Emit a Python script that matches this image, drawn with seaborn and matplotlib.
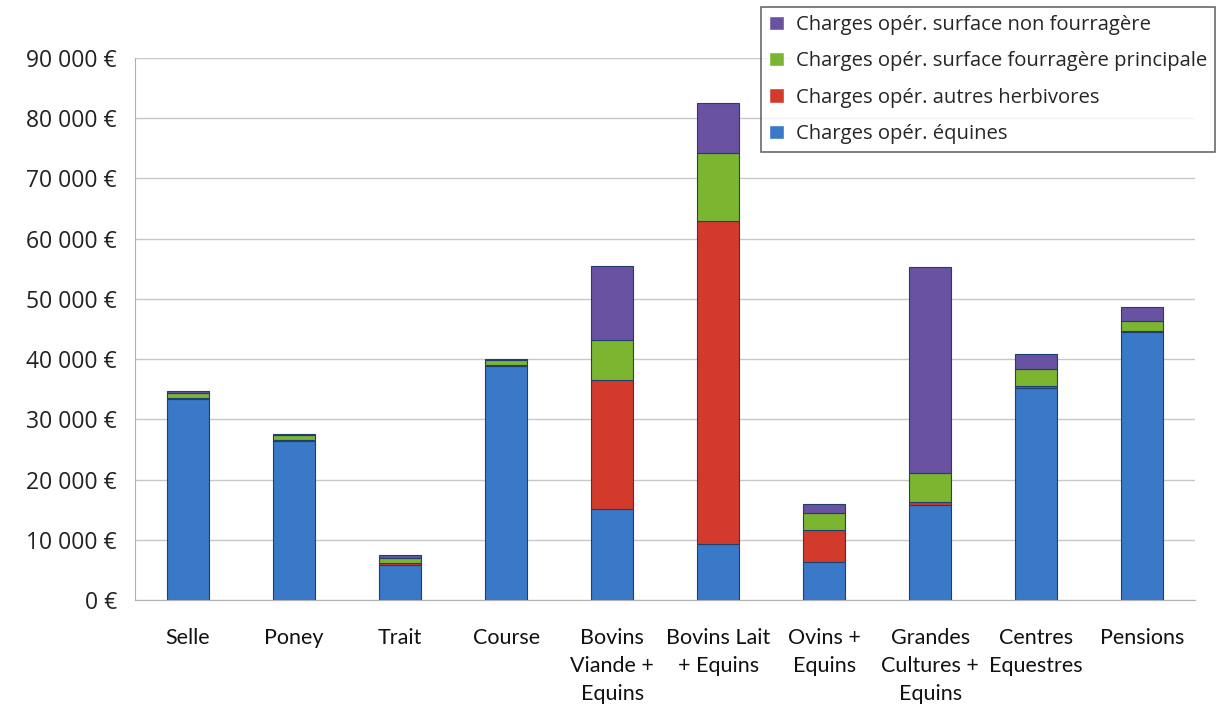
import numpy as np
import pandas as pd
import matplotlib
matplotlib.use('Agg')
import matplotlib.pyplot as plt
from matplotlib.patches import Patch
import seaborn as sns

# Données
categories = ['Selle', 'Poney', 'Trait', 'Course', 'Bovins\nViande +\nEquins',
              'Bovins Lait\n+ Equins', 'Ovins +\nEquins', 'Grandes\nCultures +\nEquins',
              'Centres\nEquestres', 'Pensions']
equines = [33300, 26400, 5900, 38900, 15100, 9300, 6300, 15800, 35200, 44500]
autres_herbivores = [200, 100, 300, 100, 21400, 53700, 5300, 500, 400, 200]
fourragere = [900, 900, 700, 800, 6700, 11300, 2900, 4800, 2700, 1600]
non_fourragere = [300, 200, 500, 300, 12300, 8300, 1400, 34200, 2600, 2400]

series = ['Charges opér. équines', 'Charges opér. autres herbivores',
          'Charges opér. surface fourragère principale', 'Charges opér. surface non fourragère']
couleurs = ['#3a78c8', '#d23a2c', '#7cb530', '#6a52a3']

df = pd.DataFrame({'cat': categories, series[0]: equines, series[1]: autres_herbivores,
                   series[2]: fourragere, series[3]: non_fourragere})

sns.set_style('white')
plt.rcParams['font.family'] = ['Open Sans', 'DejaVu Sans']

fig = plt.figure(figsize=(12.2, 7.08), dpi=100)
ax = fig.add_axes([0.1107, 0.1525, 0.869, 0.7655])

base = np.zeros(len(categories))
for s, c in zip(series, couleurs):
    sns.barplot(data=df, x='cat', y=s, color=c, bottom=base, width=0.4,
                edgecolor='#1f3f6e', linewidth=0.8, ax=ax, saturation=1)
    base = base + df[s].values

ax.set_ylim(0, 90000)
ax.set_xlim(-0.5, len(categories) - 0.5)
ax.set_yticks(range(0, 90001, 10000))
ax.set_yticklabels([f'{v:,}'.replace(',', ' ') + ' €' if v else '0 €' for v in range(0, 90001, 10000)],
                   fontsize=16.5, color='#222222')
ax.set_xticks(range(len(categories)))
ax.set_xticklabels(categories, fontsize=15.5, color='#111111', linespacing=1.5,
                   family=['Lato', 'DejaVu Sans'])
ax.set_xlabel('')
ax.set_ylabel('')
ax.grid(axis='y', color='#c8c8c8', linewidth=1)
ax.set_axisbelow(True)
for sp in ['top', 'right']:
    ax.spines[sp].set_visible(False)
ax.spines['left'].set_color('#b0b0b0')
ax.spines['bottom'].set_color('#b0b0b0')
ax.tick_params(axis='y', length=5, color='#b0b0b0', pad=8)
ax.tick_params(axis='x', length=0, pad=20)
ax.set_xticks(np.arange(-0.5, len(categories), 1), minor=True)
ax.tick_params(axis='x', which='minor', length=5, color='#b0b0b0')

handles = [Patch(facecolor=c, label=s) for s, c in zip(series, couleurs)][::-1]
leg = fig.legend(handles=handles, loc='upper left', bbox_to_anchor=(0.624, 0.99),
                 fontsize=14.6, frameon=True, fancybox=False, edgecolor='#444444',
                 handlelength=0.7, handleheight=0.7, handletextpad=0.6,
                 labelspacing=0.8, borderpad=0.4, borderaxespad=0)
leg.get_frame().set_linewidth(1.2)

fig.savefig('out.png', dpi=100, facecolor='white')
